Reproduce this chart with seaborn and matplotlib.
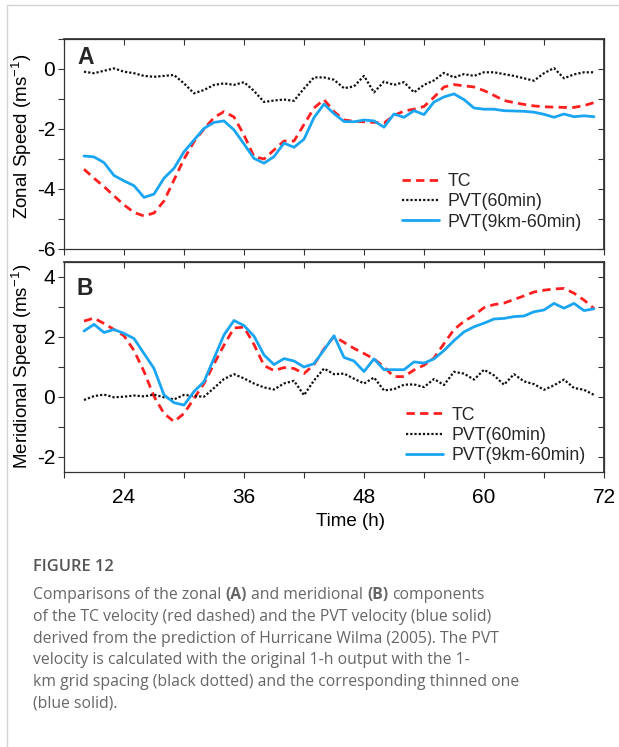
import numpy as np
import pandas as pd
import matplotlib
matplotlib.use("Agg")
import matplotlib.pyplot as plt
import seaborn as sns
from matplotlib.ticker import MultipleLocator
from matplotlib.lines import Line2D

# ---------------- data ----------------
hours = list(range(20, 72))

zonal_tc = [-3.34, -3.64, -3.92, -4.23, -4.53, -4.78, -4.90, -4.80, -4.40, -3.70,
            -3.00, -2.42, -2.00, -1.62, -1.42, -1.60, -2.20, -2.92, -3.00, -2.70,
            -2.40, -2.40, -1.85, -1.30, -1.02, -1.42, -1.70, -1.74, -1.76, -1.78,
            -1.80, -1.55, -1.40, -1.34, -1.25, -0.94, -0.60, -0.52, -0.56, -0.60,
            -0.72, -0.88, -1.05, -1.12, -1.18, -1.23, -1.26, -1.27, -1.28, -1.28,
            -1.22, -1.12]
zonal_pvt60 = [-0.09, -0.14, -0.06, 0.02, -0.09, -0.14, -0.23, -0.26, -0.23, -0.20,
               -0.48, -0.81, -0.70, -0.53, -0.48, -0.53, -0.44, -0.73, -1.10, -1.05,
               -1.02, -1.06, -0.65, -0.28, -0.28, -0.36, -0.64, -0.58, -0.23, -0.78,
               -0.42, -0.53, -0.44, -0.78, -0.53, -0.38, -0.13, -0.28, -0.17, -0.23,
               -0.11, -0.11, -0.17, -0.23, -0.31, -0.39, -0.14, 0.03, -0.31, -0.18,
               -0.11, -0.11]
zonal_pvt9 = [-2.90, -2.93, -3.12, -3.55, -3.73, -3.89, -4.28, -4.17, -3.64, -3.31,
              -2.76, -2.37, -1.98, -1.78, -1.73, -2.03, -2.50, -2.98, -3.14, -2.92,
              -2.47, -2.61, -2.34, -1.62, -1.17, -1.49, -1.75, -1.76, -1.70, -1.73,
              -1.94, -1.50, -1.61, -1.39, -1.52, -1.10, -0.93, -0.83, -1.02, -1.30,
              -1.34, -1.34, -1.39, -1.40, -1.41, -1.44, -1.51, -1.61, -1.50, -1.59,
              -1.56, -1.59]

merid_tc = [2.53, 2.63, 2.45, 2.25, 2.04, 1.55, 0.85, 0.02, -0.55, -0.82,
            -0.55, -0.05, 0.45, 1.10, 1.73, 2.30, 2.33, 1.75, 1.05, 0.88,
            0.98, 0.95, 0.78, 1.08, 1.60, 2.02, 1.82, 1.62, 1.45, 1.27,
            1.00, 0.68, 0.68, 0.90, 1.06, 1.30, 1.78, 2.25, 2.52, 2.72,
            2.98, 3.08, 3.13, 3.25, 3.37, 3.50, 3.56, 3.60, 3.62, 3.46,
            3.23, 2.95]
merid_pvt60 = [-0.10, 0.03, 0.08, -0.01, 0.01, 0.05, 0.02, 0.08, -0.01, -0.08,
               0.07, 0.03, 0.01, 0.30, 0.60, 0.76, 0.62, 0.45, 0.32, 0.25,
               0.45, 0.54, 0.06, 0.55, 0.95, 0.76, 0.78, 0.61, 0.45, 0.65,
               0.22, 0.26, 0.41, 0.42, 0.33, 0.60, 0.40, 0.84, 0.78, 0.58,
               0.91, 0.72, 0.41, 0.76, 0.52, 0.43, 0.24, 0.39, 0.58, 0.30,
               0.24, 0.07]
merid_pvt9 = [2.20, 2.42, 2.15, 2.25, 2.12, 1.95, 1.45, 0.95, 0.07, -0.19,
              -0.27, 0.18, 0.51, 1.29, 2.07, 2.55, 2.38, 2.03, 1.40, 1.08,
              1.28, 1.20, 1.00, 1.11, 1.57, 2.04, 1.32, 1.20, 0.85, 1.27,
              0.91, 0.91, 0.91, 1.17, 1.13, 1.27, 1.55, 1.88, 2.17, 2.34,
              2.46, 2.60, 2.62, 2.68, 2.70, 2.84, 2.90, 3.12, 2.96, 3.12,
              2.88, 2.94]

series_labels = ["TC", "PVT(60min)", "PVT(9km-60min)"]
x_ticks_major = [24, 36, 48, 60, 72]
x_label = "Time (h)"
y_label_a = "Zonal Speed (ms$^{-1}$)"
y_label_b = "Meridional Speed (ms$^{-1}$)"

caption_title = "FIGURE 12"
caption_lines = [
    [("Comparisons of the zonal ", False), ("(A)", True), (" and meridional ", False),
     ("(B)", True), (" components", False)],
    [("of the TC velocity (red dashed) and the PVT velocity (blue solid)", False)],
    [("derived from the prediction of Hurricane Wilma (2005). The PVT", False)],
    [("velocity is calculated with the original 1-h output with the 1-", False)],
    [("km grid spacing (black dotted) and the corresponding thinned one", False)],
    [("(blue solid).", False)],
]

# ---------------- style ----------------
sns.set_theme(style="ticks")
plt.rcParams['font.family'] = ['Liberation Sans', 'DejaVu Sans']
plt.rcParams['mathtext.default'] = 'regular'
plt.rcParams['axes.unicode_minus'] = False

RED = '#FF1F1F'
BLUE = '#1AA5F2'
BLACK = '#111111'

W, H = 619, 747
fig = plt.figure(figsize=(W / 100, H / 100), dpi=100)


def rect(l, t, r, b):
    return [l / W, 1 - b / H, (r - l) / W, (b - t) / H]


axA = fig.add_axes(rect(64, 39, 604, 249))
axB = fig.add_axes(rect(64, 262, 604, 472))


def draw(ax, tc, p60, p9):
    sns.lineplot(x=hours, y=tc, ax=ax, color=RED, lw=2.0, linestyle=(0, (3.0, 1.9)),
                 label=series_labels[0], legend=False)
    sns.lineplot(x=hours, y=p60, ax=ax, color=BLACK, lw=1.6, linestyle=(0, (1.0, 0.9)),
                 label=series_labels[1], legend=False)
    sns.lineplot(x=hours, y=p9, ax=ax, color=BLUE, lw=2.0, linestyle='-',
                 label=series_labels[2], legend=False)


draw(axA, zonal_tc, zonal_pvt60, zonal_pvt9)
draw(axB, merid_tc, merid_pvt60, merid_pvt9)

axA.set_ylim(-6, 1)
axB.set_ylim(-2.5, 4.5)

for ax in (axA, axB):
    ax.set_xlim(18, 72)
    ax.set_xticks(x_ticks_major)
    ax.xaxis.set_minor_locator(MultipleLocator(6))
    ax.yaxis.set_major_locator(MultipleLocator(2))
    ax.yaxis.set_minor_locator(MultipleLocator(1))
    for s in ax.spines.values():
        s.set_color('#333333')
        s.set_linewidth(0.9)
        s.set_visible(True)
    ax.tick_params(which='both', direction='out', length=4.3, width=0.8,
                   color='#333333', labelcolor='black', labelsize=15)
    ax.tick_params(axis='x', which='major', pad=7)
    ax.tick_params(axis='y', which='major', pad=2)
    secx = ax.secondary_xaxis('top')
    secx.xaxis.set_major_locator(MultipleLocator(6))
    secx.tick_params(direction='in', length=4.3, width=0.8, color='#333333',
                     labeltop=False)
    secx.spines['top'].set_color('#333333')
    secy = ax.secondary_yaxis('right')
    secy.yaxis.set_major_locator(MultipleLocator(1))
    secy.tick_params(direction='in', length=4.3, width=0.8, color='#333333',
                     labelright=False)
    secy.spines['right'].set_color('#333333')
    ax.set_xlabel('')

axA.tick_params(axis='x', labelbottom=False)

axA.set_ylabel(y_label_a, fontsize=13.5, color='black')
axB.set_ylabel(y_label_b, fontsize=13.5, color='black')
for ax, yc in ((axA, 0.535), (axB, 0.505)):
    ax.yaxis.label.set_verticalalignment('center')
    ax.yaxis.set_label_coords(-0.078, yc)
axB.set_xlabel(x_label, fontsize=13.5, color='black')
axB.xaxis.set_label_coords(0.531, -0.195)

axA.text(0.024, 0.965, 'A', transform=axA.transAxes, fontsize=16.5,
         fontweight='bold', va='top', ha='left')
axB.text(0.024, 0.93, 'B', transform=axB.transAxes, fontsize=16.5,
         fontweight='bold', va='top', ha='left')

for ax, anchor in ((axA, (0.626, 0.361)), (axB, (0.633, 0.311))):
    h, l = ax.get_legend_handles_labels()
    ax.legend(h, l, loc='upper left', bbox_to_anchor=anchor, frameon=False,
              fontsize=12.8, handlelength=2.1, handletextpad=0.45,
              labelspacing=0.18, borderpad=0, borderaxespad=0)

# ---------------- frame lines ----------------
fig.add_artist(Line2D([7 / W, 7 / W], [0, 1 - 5 / H], transform=fig.transFigure,
                      color='#d4d4d4', lw=1.0))
fig.add_artist(Line2D([7 / W, 1], [1 - 5 / H, 1 - 5 / H], transform=fig.transFigure,
                      color='#d4d4d4', lw=1.0))

# ---------------- caption ----------------
renderer = fig.canvas.get_renderer()
CAP_FAMILY = ['Open Sans', 'DejaVu Sans']


def measure(s, size, bold=False):
    t = fig.text(0, 0, s, fontsize=size, family=CAP_FAMILY,
                 fontweight='bold' if bold else 'normal')
    w = t.get_window_extent(renderer).width
    t.remove()
    return w


base = measure(caption_lines[1][0][0], 10)
cap_size = 10 * 455 / base

fig.text(33 / W, 1 - 567 / H, caption_title, fontsize=cap_size * 1.05,
         family=CAP_FAMILY, fontweight='semibold', color='#555555',
         va='center', ha='left')

y0, dy = 595, 21.8
for i, parts in enumerate(caption_lines):
    x = 33.0
    y = y0 + i * dy
    for txt, bold in parts:
        lead = len(txt) - len(txt.lstrip(' '))
        core = txt.strip(' ')
        trail = len(txt) - len(txt.rstrip(' '))
        sp = measure('x x', cap_size) - measure('xx', cap_size)
        x += lead * sp
        t = fig.text(x / W, 1 - y / H, core, fontsize=cap_size, family=CAP_FAMILY,
                     fontweight='bold' if bold else 'normal', color='#666666',
                     va='center', ha='left')
        x += t.get_window_extent(renderer).width
        x += trail * sp

fig.savefig('out.png', dpi=100)
